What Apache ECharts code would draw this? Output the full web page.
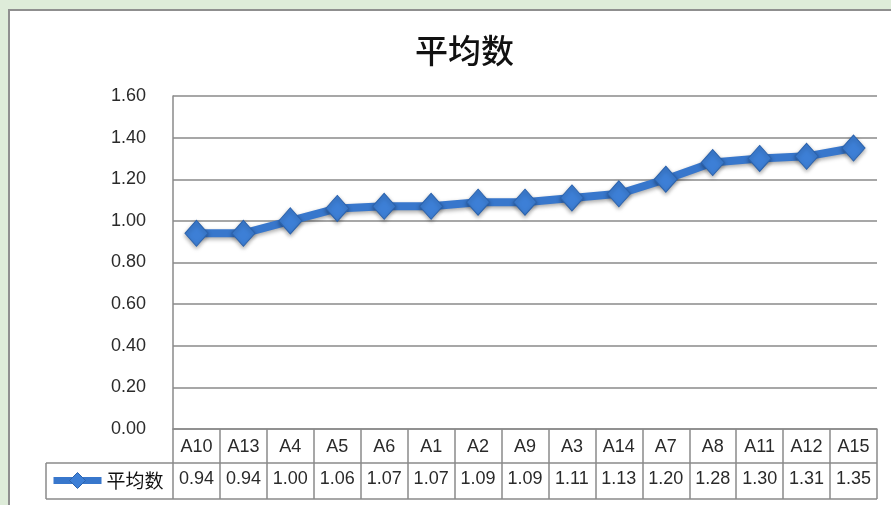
<!DOCTYPE html>
<html>
<head>
<meta charset="utf-8">
<script src="https://cdn.jsdelivr.net/npm/echarts@6/dist/echarts.min.js"></script>
<style>
  html, body { margin: 0; padding: 0; background: #deecd9; overflow: hidden; }
  #frame {
    position: absolute; left: 8px; top: 9px; width: 900px; height: 520px;
    background: #ffffff; border: 2px solid #8f8f8f; box-sizing: border-box;
  }
  #chart { position: absolute; left: 0; top: 0; width: 891px; height: 505px; }
</style>
</head>
<body>
<div id="frame"></div>
<div id="chart"></div>
<script>
// Item codes, ordered by their mean score
const categories = ['A10', 'A13', 'A4', 'A5', 'A6', 'A1', 'A2', 'A9', 'A3', 'A14', 'A7', 'A8', 'A11', 'A12', 'A15'];
// Mean score of each item
const meanValues = [0.94, 0.94, 1.00, 1.06, 1.07, 1.07, 1.09, 1.09, 1.11, 1.13, 1.20, 1.28, 1.30, 1.31, 1.35];
// Value axis ticks
const yTicks = [0, 0.2, 0.4, 0.6, 0.8, 1.0, 1.2, 1.4, 1.6];
const seriesName = '平均数';

const W = 891, H = 505;
const plot = { left: 173, right: 877, top: 96, bottom: 429 };
const tableRowSplit = 463, tableBottom = 499, legendCellLeft = 46;
const gridColor = '#8a8a8a';
const lineBlue = '#3877cc';
const textFont = '"Liberation Sans", Arial, sans-serif';
const cjkFont = '"Noto Sans CJK SC", sans-serif';

const chart = echarts.init(document.getElementById('chart'), null, { renderer: 'canvas' });

chart.setOption({
  backgroundColor: 'transparent',
  animation: false,
  title: {
    text: seriesName,
    left: 410,
    top: 29,
    textStyle: { fontFamily: cjkFont, fontSize: 33, fontWeight: 500, color: '#111' }
  },
  legend: {
    left: 50,
    top: 471,
    padding: 0,
    itemWidth: 48,
    itemHeight: 20,
    itemGap: 4,
    data: [seriesName],
    lineStyle: { width: 7, color: lineBlue },
    itemStyle: { color: '#3d7fd6', borderColor: '#2c63ad', borderWidth: 1 },
    textStyle: { fontFamily: cjkFont, fontSize: 19, color: '#111' }
  },
  grid: {
    left: plot.left,
    right: W - plot.right,
    top: plot.top,
    bottom: H - plot.bottom,
    containLabel: false
  },
  xAxis: [
    {
      type: 'category',
      data: categories,
      position: 'bottom',
      boundaryGap: true,
      axisLine: { show: true, lineStyle: { color: gridColor, width: 1.5 } },
      axisTick: { show: true, length: tableBottom - plot.bottom, lineStyle: { color: gridColor, width: 1.5 } },
      axisLabel: { margin: 9, fontFamily: textFont, fontSize: 18, color: '#2a2a2a', interval: 0 },
      splitLine: { show: false }
    },
    {
      type: 'category',
      data: categories,
      position: 'bottom',
      boundaryGap: true,
      axisLine: { show: false },
      axisTick: { show: false },
      axisLabel: {
        margin: 41, interval: 0,
        fontFamily: textFont, fontSize: 18, color: '#2a2a2a',
        formatter: (v, i) => meanValues[i].toFixed(2)
      }
    }
  ],
  yAxis: {
    type: 'value',
    min: yTicks[0],
    max: yTicks[yTicks.length - 1],
    interval: 0.2,
    axisLine: { show: true, lineStyle: { color: gridColor, width: 1.5 } },
    axisTick: { show: false },
    axisLabel: {
      margin: 27, fontFamily: textFont, fontSize: 18, color: '#2a2a2a',
      formatter: v => v.toFixed(2)
    },
    splitLine: { show: true, lineStyle: { color: gridColor, width: 1.5 } }
  },
  graphic: [
    // data-table borders
    { type: 'line', shape: { x1: legendCellLeft, y1: tableRowSplit, x2: plot.right, y2: tableRowSplit }, style: { stroke: gridColor, lineWidth: 1.5 } },
    { type: 'line', shape: { x1: legendCellLeft, y1: tableBottom, x2: plot.right, y2: tableBottom }, style: { stroke: gridColor, lineWidth: 1.5 } },
    { type: 'line', shape: { x1: legendCellLeft, y1: tableRowSplit, x2: legendCellLeft, y2: tableBottom }, style: { stroke: gridColor, lineWidth: 1.5 } }
  ],
  series: [
    {
      name: seriesName,
      type: 'line',
      data: meanValues,
      symbol: 'diamond',
      symbolSize: [23, 26],
      lineStyle: {
        color: lineBlue, width: 8,
        shadowColor: 'rgba(0,0,0,0.35)', shadowBlur: 4, shadowOffsetY: 2
      },
      itemStyle: {
        color: '#3d7fd6', borderColor: '#2c63ad', borderWidth: 1,
        shadowColor: 'rgba(0,0,0,0.35)', shadowBlur: 4, shadowOffsetY: 2
      },
      z: 5
    }
  ]
});
</script>
</body>
</html>
